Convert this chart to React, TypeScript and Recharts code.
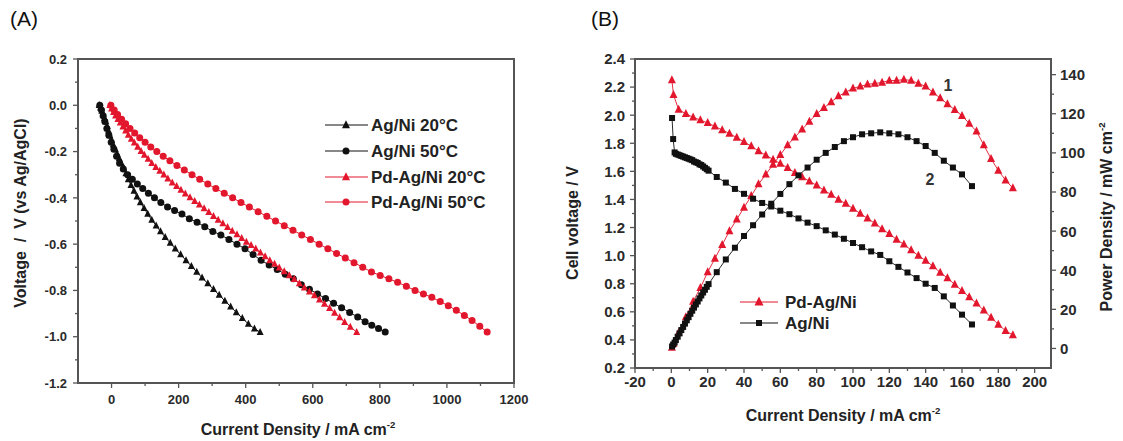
import React from "react"
import { LineChart, Line, XAxis, YAxis } from "recharts"

const FONT = "'Liberation Sans', Arial, Helvetica, sans-serif"
const RED = "#e2162c"
const BLACK = "#111111"
const AXIS = "#555555"
const TICK_TEXT = "#2a2a2a"

// ---------- Panel A: half-cell polarisation, [current density mA cm-2, voltage V vs Ag/AgCl]
const agNi20: [number, number][] = [
  [-37, 0.0], [-33, -0.01], [-29, -0.025], [-25, -0.04], [-21, -0.055], [-17, -0.07],
  [-13, -0.09], [-9, -0.11], [-5, -0.13], [0, -0.15], [5, -0.17], [11, -0.19],
  [17, -0.21], [23, -0.23], [29, -0.25], [36, -0.27], [43, -0.295], [50, -0.32],
  [58, -0.345], [67, -0.37], [76, -0.395], [86, -0.42], [97, -0.445], [108, -0.47],
  [120, -0.495], [133, -0.52], [146, -0.545], [160, -0.57], [175, -0.595], [190, -0.62],
  [206, -0.645], [222, -0.67], [238, -0.695], [254, -0.72], [270, -0.745], [287, -0.77],
  [304, -0.795], [321, -0.82], [338, -0.845], [355, -0.87], [372, -0.895], [390, -0.92],
  [408, -0.945], [426, -0.965], [443, -0.98],
]

const agNi50: [number, number][] = [
  [-35, 0.0], [-30, -0.02], [-25, -0.045], [-20, -0.07], [-14, -0.1], [-8, -0.13],
  [-1, -0.16], [7, -0.19], [15, -0.22], [24, -0.25], [35, -0.275], [48, -0.3],
  [62, -0.32], [77, -0.34], [93, -0.36], [110, -0.38], [128, -0.4], [147, -0.42],
  [167, -0.44], [188, -0.455], [210, -0.47], [232, -0.49], [255, -0.505], [278, -0.525],
  [302, -0.545], [326, -0.56], [350, -0.58], [374, -0.6], [398, -0.62], [422, -0.645],
  [446, -0.67], [470, -0.69], [494, -0.71], [518, -0.73], [542, -0.75], [566, -0.775],
  [590, -0.795], [614, -0.815], [638, -0.835], [662, -0.855], [686, -0.875], [710, -0.895],
  [734, -0.915], [756, -0.935], [776, -0.95], [796, -0.965], [816, -0.98],
]

const pdAgNi20: [number, number][] = [
  [-5, 0.0], [0, -0.015], [6, -0.03], [12, -0.045], [19, -0.06], [26, -0.075],
  [34, -0.092], [42, -0.11], [50, -0.128], [59, -0.145], [68, -0.162], [78, -0.18],
  [88, -0.198], [98, -0.215], [109, -0.232], [120, -0.25], [132, -0.267], [144, -0.284],
  [156, -0.3], [168, -0.317], [181, -0.334], [194, -0.35], [207, -0.366], [220, -0.382],
  [234, -0.398], [248, -0.414], [262, -0.43], [276, -0.446], [290, -0.462], [304, -0.479],
  [318, -0.495], [332, -0.511], [346, -0.527], [360, -0.543], [374, -0.558], [388, -0.574],
  [402, -0.59], [416, -0.605], [430, -0.62], [444, -0.637], [458, -0.653], [472, -0.67],
  [486, -0.686], [500, -0.702], [515, -0.718], [530, -0.735], [545, -0.752], [560, -0.77],
  [575, -0.788], [590, -0.805], [605, -0.822], [620, -0.84], [635, -0.858], [650, -0.877],
  [665, -0.897], [680, -0.917], [695, -0.937], [712, -0.958], [731, -0.98],
]

const pdAgNi50: [number, number][] = [
  [-2, 0.0], [8, -0.02], [18, -0.04], [30, -0.06], [42, -0.08], [55, -0.1],
  [69, -0.12], [84, -0.14], [100, -0.16], [117, -0.18], [135, -0.2], [154, -0.22],
  [174, -0.24], [195, -0.26], [217, -0.28], [240, -0.3], [263, -0.32], [287, -0.34],
  [311, -0.36], [336, -0.38], [361, -0.4], [386, -0.42], [411, -0.44], [437, -0.46],
  [463, -0.48], [489, -0.5], [515, -0.52], [541, -0.54], [567, -0.56], [593, -0.58],
  [619, -0.6], [645, -0.62], [671, -0.64], [697, -0.66], [723, -0.68], [749, -0.7],
  [775, -0.72], [801, -0.735], [827, -0.75], [853, -0.765], [879, -0.782], [905, -0.8],
  [930, -0.815], [955, -0.83], [980, -0.848], [1004, -0.866], [1028, -0.886], [1052, -0.908],
  [1075, -0.93], [1098, -0.955], [1120, -0.98],
]

// ---------- Panel B: single cell, [current density mA cm-2, value]
const pdAgNiVoltage: [number, number][] = [
  [0.3, 2.25], [1.2, 2.145], [4, 2.04], [8, 2.01], [12, 1.985], [16, 1.965], [20, 1.945],
  [24, 1.92], [28, 1.895], [32, 1.87], [36, 1.84], [40, 1.81], [44, 1.78], [48, 1.745],
  [52, 1.715], [56, 1.685], [60, 1.655], [64, 1.625], [68, 1.59], [72, 1.56], [76, 1.53],
  [80, 1.5], [84, 1.465], [88, 1.435], [92, 1.4], [96, 1.37], [100, 1.335], [104, 1.3],
  [108, 1.265], [112, 1.23], [116, 1.19], [120, 1.155], [124, 1.115], [128, 1.08],
  [132, 1.04], [136, 1.0], [140, 0.965], [144, 0.925], [148, 0.88], [152, 0.84],
  [156, 0.795], [160, 0.75], [164, 0.705], [168, 0.66], [172, 0.61], [176, 0.56],
  [180, 0.51], [184, 0.465], [188, 0.435],
]

const pdAgNiPower: [number, number][] = [
  [0.3, 0.5], [1.2, 2.5], [4, 8], [8, 16], [12, 24], [16, 31], [20, 39], [24, 46],
  [28, 53], [32, 60], [36, 66], [40, 72], [44, 78], [48, 84], [52, 89], [56, 94],
  [60, 99], [64, 104], [68, 108], [72, 112], [76, 116], [80, 120], [84, 123], [88, 126],
  [92, 129], [96, 131], [100, 133], [104, 134], [108, 135], [112, 135.5], [116, 136],
  [120, 137], [124, 137], [128, 137.5], [132, 137], [136, 135.5], [140, 134], [144, 131],
  [148, 128], [152, 125], [156, 122], [160, 119], [164, 115], [168, 111], [172, 104],
  [176, 97], [180, 91], [184, 86], [188, 82],
]

const agNiVoltage: [number, number][] = [
  [0.4, 1.98], [1, 1.83], [1.8, 1.735], [2.5, 1.725], [3.5, 1.72], [4.5, 1.715],
  [5.5, 1.71], [6.5, 1.705], [7.5, 1.7], [8.5, 1.695], [9.5, 1.69], [10.5, 1.685],
  [11.5, 1.68], [12.5, 1.67], [13.5, 1.665], [14.5, 1.66], [15.5, 1.65], [16.5, 1.645],
  [17.5, 1.635], [18.5, 1.625], [19.5, 1.615], [20.5, 1.605], [25, 1.56], [30, 1.52],
  [35, 1.475], [40, 1.44], [45, 1.405], [50, 1.375], [55, 1.35], [60, 1.32], [65, 1.295],
  [70, 1.265], [75, 1.235], [80, 1.21], [85, 1.18], [90, 1.15], [95, 1.12], [100, 1.09],
  [105, 1.06], [110, 1.03], [115, 1.005], [120, 0.96], [125, 0.92], [130, 0.88],
  [135, 0.84], [140, 0.8], [145, 0.77], [150, 0.71], [155, 0.645], [160, 0.58], [165.5, 0.51],
]

const agNiPower: [number, number][] = [
  [0.4, 1], [1, 2], [1.8, 3], [2.5, 4.3], [3.5, 6], [4.5, 7.7], [5.5, 9.4], [6.5, 11],
  [7.5, 12.7], [8.5, 14.4], [9.5, 16], [10.5, 17.7], [11.5, 19.3], [12.5, 20.9],
  [13.5, 22.5], [14.5, 24], [15.5, 25.6], [16.5, 27.1], [17.5, 28.6], [18.5, 30],
  [19.5, 31.5], [20.5, 32.9], [25, 39], [30, 45.5], [35, 51.5], [40, 57.5], [45, 63],
  [50, 68.5], [55, 74], [60, 79], [65, 84], [70, 88.5], [75, 92.5], [80, 96.5], [85, 100],
  [90, 103], [95, 106], [100, 108], [105, 109.5], [110, 110], [115, 110.5], [120, 110],
  [125, 109.5], [130, 108], [135, 106], [140, 103.5], [145, 100], [150, 96], [155, 92.5],
  [160, 89], [165.5, 83],
]

// ---------- ticks
const xMajorA = [0, 200, 400, 600, 800, 1000, 1200]
const xMinorA = [100, 300, 500, 700, 900, 1100]
const yMajorA = [-1.2, -1.0, -0.8, -0.6, -0.4, -0.2, 0.0, 0.2]
const yMinorA = [-1.1, -0.9, -0.7, -0.5, -0.3, -0.1, 0.1]

const xMajorB = [-20, 0, 20, 40, 60, 80, 100, 120, 140, 160, 180, 200]
const xMinorB = [-10, 10, 30, 50, 70, 90, 110, 130, 150, 170, 190]
const yMajorB = [0.2, 0.4, 0.6, 0.8, 1.0, 1.2, 1.4, 1.6, 1.8, 2.0, 2.2, 2.4]
const yMinorB = [0.3, 0.5, 0.7, 0.9, 1.1, 1.3, 1.5, 1.7, 1.9, 2.1, 2.3]
const pMajorB = [0, 20, 40, 60, 80, 100, 120, 140]
const pMinorB = [10, 30, 50, 70, 90, 110, 130]

const toPts = (arr: [number, number][]) => arr.map(([x, y]) => ({ x, y }))

type Shape = "triangle" | "circle" | "square"

function marker(shape: Shape, cx: number, cy: number, size: number, color: string) {
  if (shape === "triangle") {
    return (
      <path
        d={`M${cx},${cy - size * 0.6}L${cx + size / 2},${cy + size * 0.4}L${cx - size / 2},${cy + size * 0.4}Z`}
        fill={color}
      />
    )
  }
  if (shape === "square") {
    return <rect x={cx - size / 2} y={cy - size / 2} width={size} height={size} fill={color} />
  }
  return <circle cx={cx} cy={cy} r={size / 2} fill={color} />
}

const dotFn = (shape: Shape, size: number, color: string) => (p: any) =>
  <g key={`dot-${p.index}`}>{marker(shape, p.cx, p.cy, size, color)}</g>

const bottomTick = (majors: number[], fs: number, dy: number) => (p: any) => {
  const v = p.payload.value
  const major = majors.includes(v)
  return (
    <g>
      <line x1={p.x} x2={p.x} y1={p.y} y2={p.y + (major ? 5 : 3)} stroke={AXIS} strokeWidth={1.3} />
      {major && (
        <text x={p.x} y={p.y + dy} textAnchor="middle" fontFamily={FONT} fontWeight="bold" fontSize={fs} fill={TICK_TEXT}>
          {v}
        </text>
      )}
    </g>
  )
}

const sideTick = (majors: number[], fs: number, gap: number, side: "left" | "right", fmt: (v: number) => string) => (p: any) => {
  const v = p.payload.value
  const major = majors.includes(v)
  const s = side === "left" ? -1 : 1
  return (
    <g>
      <line x1={p.x} x2={p.x + s * (major ? 5 : 3)} y1={p.y} y2={p.y} stroke={AXIS} strokeWidth={1.3} />
      {major && (
        <text
          x={p.x + s * gap}
          y={p.y + fs * 0.36}
          textAnchor={side === "left" ? "end" : "start"}
          fontFamily={FONT}
          fontWeight="bold"
          fontSize={fs}
          fill={TICK_TEXT}
        >
          {fmt(v)}
        </text>
      )}
    </g>
  )
}

const absText = (left: number, top: number, rotate = false): React.CSSProperties => ({
  position: "absolute",
  left,
  top,
  transform: `translate(-50%, -50%)${rotate ? " rotate(-90deg)" : ""}`,
  whiteSpace: "pre",
  fontFamily: FONT,
  fontWeight: "bold",
  fontSize: 16,
  color: "#222",
  lineHeight: 1,
})

const frame = (left: number, top: number, right: number, bottom: number): React.CSSProperties => ({
  position: "absolute",
  left: left - 1,
  top: top - 1,
  width: right - left + 2,
  height: bottom - top + 2,
  border: `2px solid ${AXIS}`,
  boxSizing: "border-box",
})

function LegendRows(props: { rows: { label: string; shape: Shape; color: string; size: number }[]; x0: number; x1: number; xm: number; xt: number; ys: number[] }) {
  const { rows, x0, x1, xm, xt, ys } = props
  return (
    <svg width={1123} height={441} style={{ position: "absolute", left: 0, top: 0, pointerEvents: "none" }}>
      {rows.map((r, i) => (
        <g key={r.label}>
          <line x1={x0} x2={x1} y1={ys[i]} y2={ys[i]} stroke={r.color} strokeWidth={1} />
          {marker(r.shape, xm, ys[i], r.size, r.color)}
          <text x={xt} y={ys[i] + 6} fontFamily={FONT} fontWeight="bold" fontSize={17} fill="#222">
            {r.label}
          </text>
        </g>
      ))}
    </svg>
  )
}

export default function App() {
  return (
    <div style={{ position: "absolute", left: 0, top: 0, width: 1123, height: 441, background: "#fff", overflow: "hidden" }}>
      {/* Panel A */}
      <div style={{ position: "absolute", left: 0, top: 0 }}>
        <LineChart width={560} height={441} margin={{ top: 59, right: 46, bottom: 57, left: 77 }}>
          <XAxis
            type="number"
            dataKey="x"
            domain={[-100, 1200]}
            allowDataOverflow
            ticks={[...xMajorA, ...xMinorA]}
            interval={0}
            height={1}
            tickSize={0}
            tickMargin={0}
            axisLine={false}
            tickLine={false}
            tick={bottomTick(xMajorA, 13, 21)}
          />
          <YAxis
            type="number"
            domain={[-1.2, 0.2]}
            allowDataOverflow
            ticks={[...yMajorA, ...yMinorA]}
            interval={0}
            width={1}
            tickSize={0}
            tickMargin={0}
            axisLine={false}
            tickLine={false}
            tick={sideTick(yMajorA, 13, 11, "left", (v) => v.toFixed(1))}
          />
          <Line data={toPts(agNi20)} dataKey="y" type="linear" stroke={BLACK} strokeWidth={1} dot={dotFn("triangle", 7, BLACK)} activeDot={false} isAnimationActive={false} />
          <Line data={toPts(agNi50)} dataKey="y" type="linear" stroke={BLACK} strokeWidth={1} dot={dotFn("circle", 7, BLACK)} activeDot={false} isAnimationActive={false} />
          <Line data={toPts(pdAgNi20)} dataKey="y" type="linear" stroke={RED} strokeWidth={1} dot={dotFn("triangle", 7, RED)} activeDot={false} isAnimationActive={false} />
          <Line data={toPts(pdAgNi50)} dataKey="y" type="linear" stroke={RED} strokeWidth={1} dot={dotFn("circle", 7, RED)} activeDot={false} isAnimationActive={false} />
        </LineChart>
      </div>
      <div style={frame(78, 59, 514, 383)} />

      {/* Panel B */}
      <div style={{ position: "absolute", left: 560, top: 0 }}>
        <LineChart width={563} height={441} margin={{ top: 59, right: 71, bottom: 72, left: 74 }}>
          <XAxis
            type="number"
            dataKey="x"
            domain={[-20, 209]}
            allowDataOverflow
            ticks={[...xMajorB, ...xMinorB]}
            interval={0}
            height={1}
            tickSize={0}
            tickMargin={0}
            axisLine={false}
            tickLine={false}
            tick={bottomTick(xMajorB, 15, 19)}
          />
          <YAxis
            yAxisId="left"
            type="number"
            domain={[0.2, 2.4]}
            allowDataOverflow
            ticks={[...yMajorB, ...yMinorB]}
            interval={0}
            width={1}
            tickSize={0}
            tickMargin={0}
            axisLine={false}
            tickLine={false}
            tick={sideTick(yMajorB, 15, 10, "left", (v) => v.toFixed(1))}
          />
          <YAxis
            yAxisId="right"
            orientation="right"
            type="number"
            domain={[-10, 148]}
            allowDataOverflow
            ticks={[...pMajorB, ...pMinorB]}
            interval={0}
            width={1}
            tickSize={0}
            tickMargin={0}
            axisLine={false}
            tickLine={false}
            tick={sideTick(pMajorB, 15, 9, "right", (v) => String(v))}
          />
          <Line yAxisId="left" data={toPts(pdAgNiVoltage)} dataKey="y" type="linear" stroke={RED} strokeWidth={0.9} dot={dotFn("triangle", 8, RED)} activeDot={false} isAnimationActive={false} />
          <Line yAxisId="right" data={toPts(pdAgNiPower)} dataKey="y" type="linear" stroke={RED} strokeWidth={0.9} dot={dotFn("triangle", 8, RED)} activeDot={false} isAnimationActive={false} />
          <Line yAxisId="left" data={toPts(agNiVoltage)} dataKey="y" type="linear" stroke={BLACK} strokeWidth={0.9} dot={dotFn("square", 6, BLACK)} activeDot={false} isAnimationActive={false} />
          <Line yAxisId="right" data={toPts(agNiPower)} dataKey="y" type="linear" stroke={BLACK} strokeWidth={0.9} dot={dotFn("square", 6, BLACK)} activeDot={false} isAnimationActive={false} />
        </LineChart>
      </div>
      <div style={frame(635, 59, 1051, 368)} />

      {/* legends */}
      <LegendRows
        rows={[
          { label: "Ag/Ni 20°C", shape: "triangle", color: BLACK, size: 8 },
          { label: "Ag/Ni 50°C", shape: "circle", color: BLACK, size: 7 },
          { label: "Pd-Ag/Ni 20°C", shape: "triangle", color: RED, size: 8 },
          { label: "Pd-Ag/Ni 50°C", shape: "circle", color: RED, size: 7 },
        ]}
        x0={325}
        x1={368}
        xm={346}
        xt={371}
        ys={[125, 151, 177, 202]}
      />
      <LegendRows
        rows={[
          { label: "Pd-Ag/Ni", shape: "triangle", color: RED, size: 9 },
          { label: "Ag/Ni", shape: "square", color: BLACK, size: 6 },
        ]}
        x0={740}
        x1={778}
        xm={759}
        xt={785}
        ys={[302, 323]}
      />

      {/* curve numbers */}
      <div style={{ ...absText(948, 86), color: "#333" }}>1</div>
      <div style={{ ...absText(930, 180), color: "#333" }}>2</div>

      {/* panel letters */}
      <div style={{ position: "absolute", left: 10, top: 8, fontFamily: FONT, fontSize: 21, color: "#111", lineHeight: 1 }}>(A)</div>
      <div style={{ position: "absolute", left: 591, top: 8, fontFamily: FONT, fontSize: 21, color: "#111", lineHeight: 1 }}>(B)</div>

      {/* axis titles */}
      <div style={absText(21, 213, true)}>{"Voltage  /  V (vs Ag/AgCl)"}</div>
      <div style={absText(298, 429)}>
        Current Density / mA cm<sup style={{ fontSize: "0.6em", verticalAlign: "0.7em" }}>-2</sup>
      </div>
      <div style={absText(573, 223, true)}>Cell voltage / V</div>
      <div style={absText(843, 415)}>
        Current Density / mA cm<sup style={{ fontSize: "0.6em", verticalAlign: "0.7em" }}>-2</sup>
      </div>
      <div style={absText(1106, 217, true)}>
        Power Density / mW cm<sup style={{ fontSize: "0.6em", verticalAlign: "0.7em" }}>-2</sup>
      </div>
    </div>
  )
}
